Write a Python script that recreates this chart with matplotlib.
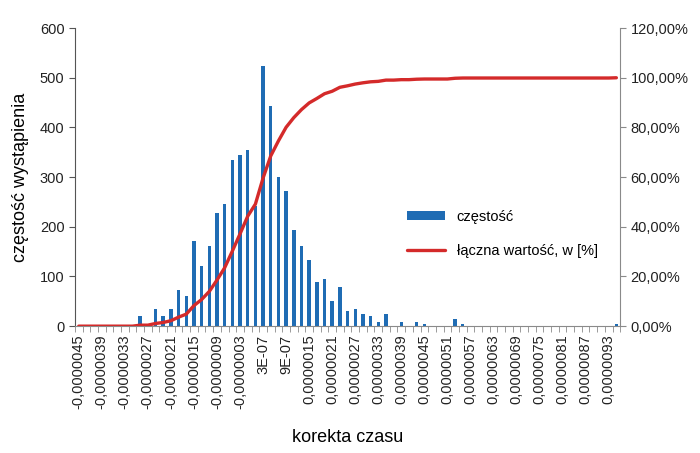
import matplotlib
matplotlib.use("Agg")
import matplotlib.pyplot as plt
import numpy as np

plt.rcParams["font.family"] = ["Liberation Sans", "DejaVu Sans"]

# histogram counts per bin (71 bins, width 0.0000002, first bin -0,0000045)
counts = [
    0, 0, 0, 0, 0, 0, 0, 0, 20, 0,
    34, 20, 35, 72, 60, 171, 122, 162, 228, 246,
    334, 345, 354, 242, 523, 443, 301, 273, 193, 161,
    134, 89, 95, 50, 79, 30, 35, 25, 20, 9,
    25, 0, 9, 0, 9, 4, 0, 0, 0, 15,
    5, 0, 0, 0, 0, 0, 0, 0, 0, 0,
    0, 0, 0, 0, 0, 0, 0, 0, 0, 0,
    5,
]
# labels shown on every third bin
tick_labels = [
    "-0,0000045", "-0,0000039", "-0,0000033", "-0,0000027", "-0,0000021",
    "-0,0000015", "-0,0000009", "-0,0000003", "3E-07", "9E-07",
    "0,0000015", "0,0000021", "0,0000027", "0,0000033", "0,0000039",
    "0,0000045", "0,0000051", "0,0000057", "0,0000063", "0,0000069",
    "0,0000075", "0,0000081", "0,0000087", "0,0000093",
]

BLUE = "#1f6cb4"
RED = "#d42a2a"
AXIS = "#8a8a8a"

counts = np.array(counts, dtype=float)
cum_pct = np.cumsum(counts) / counts.sum() * 100
x = np.arange(len(counts))

fig = plt.figure(figsize=(7.0, 4.53), dpi=100)
ax = fig.add_axes([0.107, 0.280, 0.779, 0.658])
ax2 = ax.twinx()

bars = ax.bar(x, counts, width=0.45, color=BLUE, label="częstość", zorder=2)
line, = ax2.plot(x, cum_pct, color=RED, linewidth=2.4, label="łączna wartość, w [%]",
                 solid_capstyle="round")

ax.set_xlim(-0.5, len(counts) - 0.5)
ax.set_ylim(0, 600)
ax.set_yticks(range(0, 601, 100))
ax2.set_ylim(0, 120)
ax2.set_yticks(range(0, 121, 20))
ax2.set_yticklabels([f"{v},00%" for v in range(0, 121, 20)])

# ticks at bin boundaries, labels on every third bin
ax.set_xticks(np.arange(-0.5, len(counts), 1.0), minor=True)
ax.set_xticks(x[::3])
ax.set_xticklabels(tick_labels, rotation=90)
ax.tick_params(axis="x", which="major", length=0, pad=6)
ax.tick_params(axis="x", which="minor", length=4, color=AXIS, direction="out")

for a in (ax, ax2):
    a.spines["top"].set_visible(False)
    a.tick_params(labelsize=10.5, colors="#222222")
ax.spines["right"].set_visible(False)
ax2.spines["left"].set_visible(False)
ax2.spines["bottom"].set_visible(False)
ax.spines["left"].set_color("#555555")
ax.spines["bottom"].set_color(AXIS)
ax2.spines["right"].set_color(AXIS)
ax.tick_params(axis="y", length=4, color="#555555")
ax2.tick_params(axis="y", length=4, color=AXIS)
ax.tick_params(axis="x", which="minor", color=AXIS)

ax.set_ylabel("częstość wystąpienia", fontsize=13, labelpad=8)
ax.set_xlabel("korekta czasu", fontsize=13, labelpad=14)

ax2.legend([bars, line], ["częstość", "łączna wartość, w [%]"],
           loc="center left", bbox_to_anchor=(0.585, 0.31), frameon=False,
           fontsize=10.5, labelspacing=1.4, handlelength=2.6, handleheight=0.6)

fig.savefig("out.png", dpi=100)
